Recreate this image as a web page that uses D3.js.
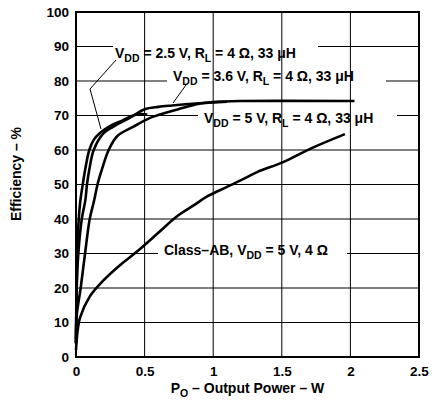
<!DOCTYPE html>
<html>
<head>
<meta charset="utf-8">
<script src="https://cdn.jsdelivr.net/npm/d3@7"></script>
<style>
  body { margin: 0; background: #fff; }
  text { font-family: "Liberation Sans", Arial, sans-serif; font-weight: bold; fill: #000; }
</style>
</head>
<body>
<div id="chart"></div>
<script>
// tick values
var xTicks = [0, 0.5, 1, 1.5, 2, 2.5];
var yTicks = [0, 10, 20, 30, 40, 50, 60, 70, 80, 90, 100];

// VDD = 2.5 V curve (output power W, efficiency %)
var pow25 = [0, 0.003, 0.006, 0.01, 0.02, 0.032, 0.049, 0.07, 0.097, 0.13, 0.177, 0.25, 0.34, 0.44, 0.52];
var eff25 = [4, 15, 23, 32, 40, 45.4, 50, 55, 60, 63, 65, 67, 68.6, 70.3, 70.3];

// VDD = 3.6 V curve
var pow36 = [0, 0.005, 0.017, 0.042, 0.068, 0.08, 0.1, 0.129, 0.2, 0.27, 0.4, 0.5, 0.6, 0.7, 0.85, 1.0, 1.1];
var eff36 = [4, 20, 30, 40, 45.4, 50, 55, 60, 64.8, 66.7, 69.5, 71.8, 72.5, 72.9, 73.4, 73.8, 74];

// VDD = 5 V curve
var pow5 = [0, 0.005, 0.034, 0.066, 0.1, 0.13, 0.16, 0.19, 0.238, 0.3, 0.416, 0.54, 0.613, 0.76, 0.88, 1.0, 1.2, 2.03];
var eff5 = [4, 12, 20, 30, 40, 45, 50.5, 54.5, 60, 64, 66.7, 69.3, 70.3, 72, 73.3, 73.9, 74.2, 74.2];

// Class-AB curve
var powAB = [0, 0.01, 0.03, 0.1, 0.2, 0.32, 0.44, 0.6, 0.73, 0.86, 0.95, 1.1, 1.2, 1.32, 1.51, 1.71, 1.96];
var effAB = [2, 7, 11.5, 17.5, 22.2, 26.6, 30.4, 36, 40.6, 44, 46.4, 49.3, 51.2, 53.6, 56.5, 60.4, 64.6];

var svgW = 434, svgH = 403;
var margin = {top: 12, right: 15, bottom: 46, left: 76};
var width = svgW - margin.left - margin.right;
var height = svgH - margin.top - margin.bottom;

var svg = d3.select("#chart").append("svg")
  .attr("width", svgW)
  .attr("height", svgH);

var chartGroup = svg.append("g")
  .attr("transform", `translate(${margin.left}, ${margin.top})`);

var xLinearScale = d3.scaleLinear().domain([0, 2.5]).range([0, width]);
var yLinearScale = d3.scaleLinear().domain([0, 100]).range([height, 0]);

// horizontal grid
chartGroup.append("g")
  .selectAll("line")
  .data(yTicks)
  .enter()
  .append("line")
  .attr("x1", 0)
  .attr("x2", width)
  .attr("y1", d => yLinearScale(d))
  .attr("y2", d => yLinearScale(d))
  .attr("stroke", "#000")
  .attr("stroke-width", 1);

// white boxes behind labels (gaps in horizontal lines)
var gaps = [[90, 113, 318], [80, 167, 386], [70, 198, 397], [30, 158, 347]];
chartGroup.append("g")
  .selectAll("rect")
  .data(gaps)
  .enter()
  .append("rect")
  .attr("x", d => d[1] - margin.left)
  .attr("width", d => d[2] - d[1])
  .attr("y", d => yLinearScale(d[0]) - 3)
  .attr("height", 6)
  .attr("fill", "#fff");

// vertical grid
chartGroup.append("g")
  .selectAll("line")
  .data(xTicks)
  .enter()
  .append("line")
  .attr("x1", d => xLinearScale(d))
  .attr("x2", d => xLinearScale(d))
  .attr("y1", 0)
  .attr("y2", height)
  .attr("stroke", "#000")
  .attr("stroke-width", 1);

// frame
chartGroup.append("rect")
  .attr("width", width)
  .attr("height", height)
  .attr("fill", "none")
  .attr("stroke", "#000")
  .attr("stroke-width", 2);

// axes (labels only)
var bottomAxis = d3.axisBottom(xLinearScale).tickValues(xTicks).tickSize(0).tickPadding(9)
  .tickFormat(d => d);
var leftAxis = d3.axisLeft(yLinearScale).tickValues(yTicks).tickSize(0).tickPadding(7);

var xAxis = chartGroup.append("g")
  .attr("transform", `translate(0, ${height})`)
  .call(bottomAxis);
var yAxis = chartGroup.append("g").call(leftAxis);

[xAxis, yAxis].forEach(function(a) {
  a.select(".domain").remove();
  a.selectAll("text")
    .style("font-family", "'Liberation Sans', Arial, sans-serif")
    .style("font-weight", "bold")
    .style("font-size", "13.5px")
    .attr("fill", "#000");
});

// curves
var line = d3.line()
  .x(d => xLinearScale(d[0]))
  .y(d => yLinearScale(d[1]))
  .curve(d3.curveCatmullRom.alpha(0.5));

var series = [[pow25, eff25], [pow36, eff36], [pow5, eff5], [powAB, effAB]];
series.forEach(function(s) {
  var pts = s[0].map((p, i) => [p, s[1][i]]);
  chartGroup.append("path")
    .attr("d", line(pts))
    .attr("fill", "none")
    .attr("stroke", "#000")
    .attr("stroke-width", 2.6)
    .attr("stroke-linejoin", "round");
});

// leader lines
var leaders = [
  [[116, 60], [90, 89], [101, 129]],
  [[186, 85], [173, 103]]
];
leaders.forEach(function(l) {
  svg.append("polyline")
    .attr("points", l.map(p => p.join(",")).join(" "))
    .attr("fill", "none")
    .attr("stroke", "#000")
    .attr("stroke-width", 1);
});

// labels with subscripts
function addLabel(x, y, parts) {
  var t = svg.append("text")
    .attr("x", x)
    .attr("y", y)
    .style("font-size", "14px");
  var sub = false;
  parts.forEach(function(p) {
    var isSub = p[1];
    var ts = t.append("tspan").text(p[0]);
    if (isSub && !sub) ts.attr("dy", 4).style("font-size", "10.5px");
    else if (!isSub && sub) ts.attr("dy", -4);
    else if (isSub) ts.style("font-size", "10.5px");
    sub = isSub;
  });
  return t;
}

addLabel(115, 58, [["V", false], ["DD", true], [" = 2.5 V, R", false], ["L", true], [" = 4 \u03A9, 33 \u03BCH", false]]);
addLabel(173, 81, [["V", false], ["DD", true], [" = 3.6 V, R", false], ["L", true], [" = 4 \u03A9, 33 \u03BCH", false]]);
addLabel(204, 123, [["V", false], ["DD", true], [" = 5 V, R", false], ["L", true], [" = 4 \u03A9, 33 \u03BCH", false]]);
addLabel(164, 255, [["Class\u2013AB, V", false], ["DD", true], [" = 5 V, 4 \u03A9", false]]);

// axis titles
var xt = svg.append("text")
  .attr("x", margin.left + width / 2)
  .attr("y", 393)
  .attr("text-anchor", "middle")
  .style("font-size", "14px");
xt.append("tspan").text("P");
xt.append("tspan").text("O").attr("dy", 4).style("font-size", "10.5px");
xt.append("tspan").text(" \u2013 Output Power \u2013 W").attr("dy", -4);

svg.append("text")
  .attr("transform", "translate(21, 174) rotate(-90)")
  .attr("text-anchor", "middle")
  .style("font-size", "14px")
  .text("Efficiency \u2013 %");
</script>
</body>
</html>
